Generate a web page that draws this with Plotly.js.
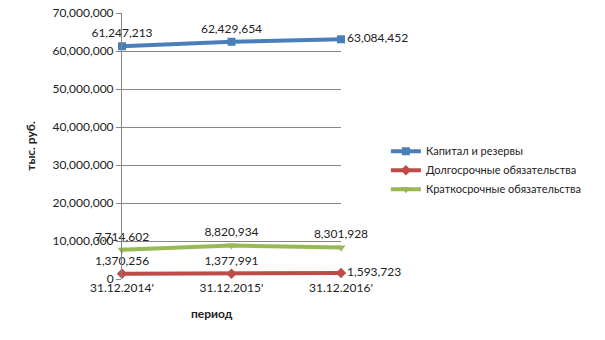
<!DOCTYPE html>
<html><head><meta charset="utf-8">
<script src="https://cdn.plot.ly/plotly-3.0.1.min.js"></script>
<style>body{margin:0;background:#fff}#c{width:605px;height:340px}</style>
</head><body><div id="c"></div>
<script>
const periods = ["31.12.2014'", "31.12.2015'", "31.12.2016'"];
const capital = [61247213, 62429654, 63084452];
const longTerm = [1370256, 1377991, 1593723];
const shortTerm = [7714602, 8820934, 8301928];
const seriesNames = ["Капитал и резервы", "Долгосрочные обязательства", "Краткосрочные обязательства"];
const yTicks = [0, 10000000, 20000000, 30000000, 40000000, 50000000, 60000000, 70000000];
const xTitle = 'период';
const yTitle = 'тыс. руб.';

const fmt = v => v.toLocaleString('en-US');
const font = {family: 'Lato, "Liberation Sans", sans-serif', size: 12, color: '#222'};

const traces = [
  {x: periods, y: capital, name: seriesNames[0], mode: 'lines+markers+text',
   line: {color: '#4a7ebb', width: 4}, marker: {symbol: 'square', size: 8, color: '#4a7ebb'},
   text: capital.map(fmt), textposition: ['top center', 'top center', 'middle right'], cliponaxis: false},
  {x: periods, y: longTerm, name: seriesNames[1], mode: 'lines+markers+text',
   line: {color: '#be4b48', width: 4}, marker: {symbol: 'diamond', size: 8, color: '#be4b48'},
   text: longTerm.map(fmt), textposition: ['top center', 'top center', 'middle right'], cliponaxis: false},
  {x: periods, y: shortTerm, name: seriesNames[2], mode: 'lines+markers+text',
   line: {color: '#98b954', width: 4}, marker: {symbol: 'triangle-down', size: 8, color: '#98b954'},
   text: shortTerm.map(fmt), textposition: ['top center', 'top center', 'top center'], cliponaxis: false}
];

const layout = {
  width: 605, height: 340,
  margin: {l: 122, r: 264, t: 13, b: 61},
  paper_bgcolor: '#fff', plot_bgcolor: '#fff',
  font: font,
  showlegend: true,
  legend: {x: 1.205, y: 0.535, xanchor: 'left', yanchor: 'top', font: {family: font.family, size: 11, color: '#222'},
           tracegroupgap: 0, itemwidth: 30},
  xaxis: {type: 'category', range: [0, 2], showgrid: false, zeroline: false,
          showline: false, ticks: '', tickfont: font},
  yaxis: {range: [0, 70000000], tickvals: yTicks, ticktext: yTicks.map(fmt),
          showgrid: true, gridcolor: '#868686', gridwidth: 1, zeroline: false,
          showline: true, linecolor: '#868686', ticks: 'outside', ticklen: 5, tickcolor: '#868686',
          tickfont: font,
          title: {text: yTitle, font: {family: font.family, size: 12, color: '#222', weight: 'bold'}, standoff: 14}},
  annotations: [{text: xTitle, xref: 'paper', yref: 'paper', x: 0.411, y: -0.128, xanchor: 'center', yanchor: 'middle',
                 showarrow: false, font: {family: font.family, size: 12, color: '#222', weight: 'bold'}}]
};
Plotly.newPlot('c', traces, layout, {displayModeBar: false, staticPlot: true});
</script></body></html>
